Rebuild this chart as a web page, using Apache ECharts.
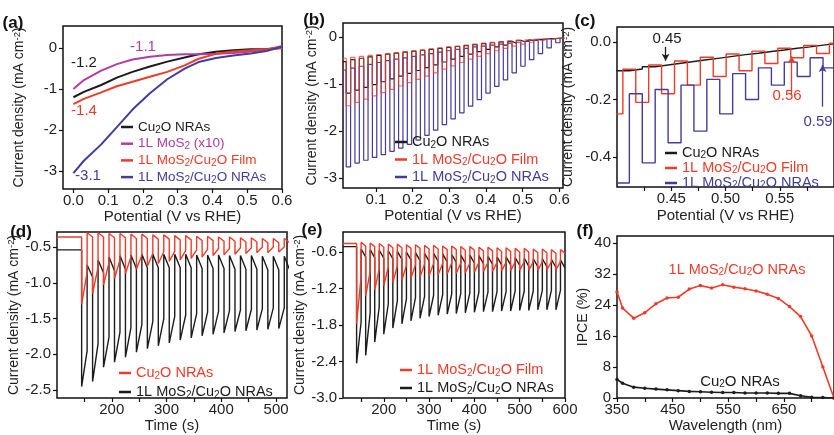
<!DOCTYPE html>
<html>
<head>
<meta charset="utf-8">
<script src="https://cdn.jsdelivr.net/npm/echarts@6.0.0/dist/echarts.min.js"></script>
<style>
  html, body { margin: 0; padding: 0; background: #fff; }
  #chart { width: 834px; height: 435px; }
</style>
</head>
<body>
<div id="chart"></div>
<script>
const FONT = 'Arial, "Liberation Sans", sans-serif';
const BLACK = '#1c1c1c', RED = '#ec3c2a', BLUE = '#433c9c', PURPLE = '#b23ca6';

// (a) linear sweeps
const aPotential = [0, 0.03, 0.08, 0.125, 0.17, 0.22, 0.27, 0.32, 0.36, 0.41, 0.46, 0.51, 0.555, 0.6];
const aCu2O = [-1.2, -1.07, -0.9, -0.72, -0.58, -0.45, -0.33, -0.23, -0.15, -0.09, -0.05, -0.03, -0.02, 0.0];
const aMoS2x10 = [-1.0, -0.78, -0.55, -0.39, -0.28, -0.21, -0.17, -0.15, -0.15, -0.14, -0.12, -0.08, -0.04, 0.05];
const aFilm = [-1.37, -1.24, -1.08, -0.93, -0.82, -0.7, -0.58, -0.42, -0.26, -0.14, -0.08, -0.05, -0.03, 0.0];
const aNRAs = [-3.05, -2.75, -2.35, -1.93, -1.5, -1.1, -0.76, -0.5, -0.34, -0.24, -0.18, -0.13, -0.07, 0.03];

// (b) chopped sweep, one value per light cycle (on = illuminated, off = dark)
const CHOP_START = -0.005, CHOP_PERIOD = 0.0238;
const bNRAsOn = [-2.9, -2.76, -2.68, -2.62, -2.56, -2.5, -2.43, -2.36, -2.28, -2.19, -2.09, -1.98, -1.86, -1.74, -1.61, -1.47, -1.33, -1.19, -1.05, -0.91, -0.76, -0.62, -0.48, -0.35, -0.23, -0.12];
const bNRAsOff = [-0.7, -0.66, -0.62, -0.58, -0.54, -0.5, -0.47, -0.44, -0.41, -0.38, -0.35, -0.32, -0.29, -0.26, -0.24, -0.21, -0.19, -0.17, -0.15, -0.13, -0.11, -0.09, -0.07, -0.05, -0.04, -0.03];
const bFilmOn = [-1.52, -1.46, -1.39, -1.32, -1.25, -1.18, -1.11, -1.04, -0.97, -0.9, -0.83, -0.76, -0.68, -0.61, -0.54, -0.47, -0.41, -0.35, -0.29, -0.24, -0.19, -0.15, -0.11, -0.08, -0.05, -0.03];
const bFilmOff = [-0.45, -0.43, -0.41, -0.39, -0.37, -0.35, -0.33, -0.31, -0.29, -0.27, -0.25, -0.23, -0.21, -0.19, -0.17, -0.15, -0.13, -0.11, -0.1, -0.08, -0.07, -0.06, -0.05, -0.04, -0.03, -0.02];
const bCu2OOn = [-1.25, -1.19, -1.13, -1.07, -1.01, -0.95, -0.89, -0.83, -0.77, -0.71, -0.65, -0.59, -0.53, -0.47, -0.41, -0.36, -0.31, -0.26, -0.21, -0.17, -0.13, -0.1, -0.07, -0.05, -0.03, -0.02];
const bCu2OOff = [-0.52, -0.48, -0.45, -0.42, -0.39, -0.36, -0.34, -0.32, -0.3, -0.28, -0.26, -0.24, -0.22, -0.2, -0.18, -0.16, -0.14, -0.12, -0.1, -0.09, -0.07, -0.06, -0.05, -0.04, -0.03, -0.02];

// (c) close-up 0.40-0.60 V
const C_START = 0.3995, C_RED_START = 0.3935;
const cNRAsOn = [-0.49, -0.42, -0.35, -0.31, -0.25, -0.2, -0.15, -0.12, -0.09];
const cNRAsOff = [-0.18, -0.165, -0.15, -0.13, -0.11, -0.09, -0.07, -0.055, -0.045];
const cFilmOn = [-0.25, -0.21, -0.18, -0.15, -0.12, -0.1, -0.075, -0.055, -0.04];
const cFilmOff = [-0.095, -0.08, -0.066, -0.053, -0.042, -0.032, -0.022, -0.012, -0.004];
const cCu2OOn = [-0.1, -0.086, -0.074, -0.062, -0.05, -0.039, -0.028, -0.017, -0.006];
const cCu2OOff = [-0.094, -0.08, -0.068, -0.056, -0.044, -0.033, -0.022, -0.011, 0.0];

// (d) chopped i-t, per cycle: spike on light-on, end of on, after light-off, end of off
const D_MIN = 100, D_START = 145, D_PERIOD = 20;
const dCu2OBase = -0.36, dNRAsBase = -0.54;
const dCu2OOnPeak = [-1.3, -1.15, -1.03, -0.94, -0.87, -0.81, -0.77, -0.73, -0.7, -0.68, -0.66, -0.64, -0.62, -0.61, -0.6, -0.59, -0.58, -0.58, -0.57];
const dCu2OOnEnd = [-0.85, -0.78, -0.72, -0.68, -0.64, -0.61, -0.59, -0.57, -0.56, -0.55, -0.54, -0.53, -0.52, -0.52, -0.51, -0.51, -0.5, -0.5, -0.5];
const dCu2OOffPeak = [-0.3, -0.3, -0.31, -0.31, -0.32, -0.32, -0.33, -0.33, -0.34, -0.34, -0.35, -0.35, -0.36, -0.36, -0.37, -0.37, -0.38, -0.38, -0.38];
const dCu2OOffEnd = [-0.36, -0.36, -0.37, -0.37, -0.38, -0.38, -0.39, -0.39, -0.4, -0.4, -0.41, -0.41, -0.42, -0.42, -0.43, -0.43, -0.44, -0.44, -0.44];
const dNRAsOnPeak = [-2.45, -2.38, -2.18, -2.11, -2.04, -1.97, -1.92, -1.88, -1.84, -1.8, -1.77, -1.74, -1.72, -1.7, -1.68, -1.67, -1.66, -1.65, -1.64];
const dNRAsOnEnd = [-1.95, -1.85, -1.76, -1.69, -1.63, -1.58, -1.54, -1.5, -1.47, -1.45, -1.43, -1.41, -1.4, -1.39, -1.38, -1.37, -1.36, -1.35, -1.35];
const dNRAsOffPeak = [-0.75, -0.68, -0.64, -0.62, -0.61, -0.6, -0.6, -0.6, -0.6, -0.6, -0.61, -0.61, -0.61, -0.62, -0.62, -0.62, -0.63, -0.63, -0.63];
const dNRAsOffEnd = [-0.92, -0.86, -0.83, -0.81, -0.8, -0.79, -0.79, -0.79, -0.79, -0.79, -0.8, -0.8, -0.8, -0.81, -0.81, -0.81, -0.82, -0.82, -0.82];

// (e) chopped i-t
const E_MIN = 110, E_START = 140, E_PERIOD = 20;
const eFilmBase = -0.46, eNRAsBase = -0.51;
const eFilmOnPeak = [-1.78, -1.32, -1.22, -1.15, -1.1, -1.06, -1.03, -1.01, -0.99, -0.97, -0.96, -0.95, -0.94, -0.93, -0.92, -0.92, -0.91, -0.91, -0.9, -0.9, -0.9, -0.89, -0.89];
const eFilmOnEnd = [-1.0, -0.92, -0.88, -0.85, -0.83, -0.82, -0.81, -0.8, -0.79, -0.79, -0.78, -0.78, -0.78, -0.77, -0.77, -0.77, -0.77, -0.76, -0.76, -0.76, -0.76, -0.76, -0.76];
const eFilmOffPeak = [-0.44, -0.45, -0.46, -0.47, -0.47, -0.48, -0.48, -0.49, -0.49, -0.5, -0.5, -0.51, -0.51, -0.52, -0.52, -0.53, -0.53, -0.54, -0.54, -0.55, -0.55, -0.56, -0.56];
const eFilmOffEnd = [-0.5, -0.51, -0.52, -0.53, -0.53, -0.54, -0.54, -0.55, -0.55, -0.56, -0.56, -0.57, -0.57, -0.58, -0.58, -0.59, -0.59, -0.6, -0.6, -0.61, -0.61, -0.62, -0.62];
const eNRAsOnPeak = [-2.43, -2.3, -2.08, -1.95, -1.85, -1.78, -1.73, -1.69, -1.66, -1.64, -1.62, -1.61, -1.6, -1.59, -1.58, -1.58, -1.57, -1.57, -1.56, -1.56, -1.55, -1.55, -1.55];
const eNRAsOnEnd = [-1.75, -1.6, -1.5, -1.45, -1.4, -1.37, -1.35, -1.33, -1.31, -1.3, -1.29, -1.28, -1.27, -1.26, -1.26, -1.25, -1.25, -1.24, -1.24, -1.24, -1.23, -1.23, -1.23];
const eNRAsOffPeak = [-0.55, -0.56, -0.57, -0.58, -0.59, -0.6, -0.61, -0.62, -0.62, -0.63, -0.64, -0.65, -0.65, -0.66, -0.67, -0.68, -0.68, -0.69, -0.7, -0.71, -0.71, -0.72, -0.73];
const eNRAsOffEnd = [-0.68, -0.69, -0.7, -0.71, -0.72, -0.73, -0.74, -0.75, -0.75, -0.76, -0.77, -0.78, -0.78, -0.79, -0.8, -0.81, -0.81, -0.82, -0.83, -0.84, -0.84, -0.85, -0.86];

// (f) IPCE
const fWavelength = [350, 360, 380, 400, 420, 440, 460, 480, 500, 520, 540, 560, 580, 600, 620, 640, 660, 680, 700, 720, 740];
const fNRAs = [27.4, 23.2, 20.6, 22, 24.3, 25.8, 26, 28.1, 29, 28.4, 29.2, 28.6, 28.2, 27.6, 26.8, 25.7, 23.6, 21, 16, 8, 0];
const fCu2O = [4.8, 3.8, 2.8, 2.5, 2.3, 2.1, 1.9, 1.7, 1.6, 1.5, 1.4, 1.4, 1.3, 1.3, 1.3, 1.2, 1.2, 0.6, 0.2, 0.1, 0];

const LABEL_TEXT = {
  cu: 'Cu{s|2}O NRAs',
  mo: '1L MoS{s|2} (x10)',
  film: '1L MoS{s|2}/Cu{s|2}O Film',
  nra: '1L MoS{s|2}/Cu{s|2}O NRAs'
};

function zip(xs, ys) { return xs.map((x, i) => [x, ys[i]]); }

function squareWave(start, period, onVals, offVals) {
  const pts = [];
  for (let k = 0; k < onVals.length; k++) {
    const t0 = start + k * period, t1 = t0 + period / 2, t2 = t0 + period;
    pts.push([t0, onVals[k]], [t1, onVals[k]], [t1, offVals[k]], [t2, offVals[k]]);
  }
  return pts;
}

function transientWave(xMin, base, start, period, onPeak, onEnd, offPeak, offEnd) {
  const pts = [[xMin, base], [start, base]];
  for (let k = 0; k < onPeak.length; k++) {
    const t0 = start + k * period, t1 = t0 + period / 2, t2 = t0 + period;
    pts.push([t0, onPeak[k]], [t1, onEnd[k]], [t1, offPeak[k]], [t2, offEnd[k]]);
  }
  return pts;
}

const SUB = { fontSize: 10, lineHeight: 8, verticalAlign: 'bottom' };
const SUP = { fontSize: 9.5, lineHeight: 8, verticalAlign: 'top' };

function xAxis(gi, min, max, labels, ticks, digits, name, nameGap) {
  return {
    gridIndex: gi, type: 'value', min, max,
    axisLine: { show: false, onZero: false },
    axisTick: { show: true, length: 4, customValues: ticks, lineStyle: { color: '#111', width: 1.2 } },
    axisLabel: { customValues: labels, formatter: v => v.toFixed(digits), fontSize: 15, color: '#222', fontFamily: FONT, margin: 4 },
    splitLine: { show: false },
    name, nameLocation: 'middle', nameGap,
    nameTextStyle: { fontSize: 15, color: '#222', fontFamily: FONT }
  };
}

function yAxis(gi, min, max, labels, digits, name, nameGap) {
  return {
    gridIndex: gi, type: 'value', min, max,
    axisLine: { show: false, onZero: false },
    axisTick: { show: true, length: 4, customValues: labels, lineStyle: { color: '#111', width: 1.2 } },
    axisLabel: { customValues: labels, formatter: v => v.toFixed(digits), fontSize: 15, color: '#222', fontFamily: FONT, margin: 6 },
    splitLine: { show: false },
    name, nameLocation: 'middle', nameGap,
    nameTextStyle: { fontSize: 14, color: '#222', fontFamily: FONT, lineHeight: 15, rich: { sup: SUP } }
  };
}

function legendFor(left, top, gap, fontSize, lineHeight, items) {
  return {
    left, top, orient: 'vertical', padding: 0, itemGap: gap,
    itemWidth: 12, itemHeight: 2.5, icon: 'rect', selectedMode: false,
    formatter: n => LABEL_TEXT[n.split(':')[1]],
    textStyle: { fontFamily: FONT, fontSize, lineHeight, rich: { s: SUB } },
    data: items.map(([name, color]) => ({ name, textStyle: { color }, itemStyle: { color } }))
  };
}

function line(name, gi, color, data, width, extra) {
  return Object.assign({
    name, type: 'line', xAxisIndex: gi, yAxisIndex: gi, data,
    color, showSymbol: false, symbol: 'none', clip: true, silent: true,
    lineStyle: { width, color }, animation: false
  }, extra || {});
}

const CD_NAME = 'Current density (mA cm{sup|-2})';
const frame = { show: true, borderColor: '#111', borderWidth: 1.5, backgroundColor: 'transparent' };

function arrow(x, y0, y1, color) {
  return {
    silent: true, symbol: ['none', 'arrow'], symbolSize: [6, 7], animation: false,
    lineStyle: { color, width: 1.3, type: 'solid' }, label: { show: false },
    data: [[{ coord: [x, y0] }, { coord: [x, y1] }]]
  };
}

function txt(x, y, text, color, size, bold) {
  return {
    type: 'text', x, y, silent: true,
    style: { text, fill: color, font: (bold ? 'bold ' : '') + size + 'px ' + FONT, align: 'center', verticalAlign: 'middle', rich: { s: SUB } }
  };
}

const chart = echarts.init(document.getElementById('chart'), null, { renderer: 'canvas' });

chart.setOption({
  animation: false,
  backgroundColor: '#fff',
  grid: [
    Object.assign({ left: 63, top: 26, width: 219, height: 163 }, frame),
    Object.assign({ left: 343, top: 23, width: 220, height: 165 }, frame),
    Object.assign({ left: 617, top: 27, width: 223, height: 160 }, frame),
    Object.assign({ left: 57, top: 232, width: 230, height: 166 }, frame),
    Object.assign({ left: 343, top: 232, width: 222, height: 166 }, frame),
    Object.assign({ left: 617, top: 236, width: 223, height: 162 }, frame)
  ],
  xAxis: [
    xAxis(0, -0.03, 0.6, [0, 0.1, 0.2, 0.3, 0.4, 0.5, 0.6], [0, 0.1, 0.2, 0.3, 0.4, 0.5, 0.6], 1, 'Potential (V vs RHE)', 18.5),
    xAxis(1, 0.01, 0.61, [0.1, 0.2, 0.3, 0.4, 0.5, 0.6], [0.1, 0.2, 0.3, 0.4, 0.5, 0.6], 1, 'Potential (V vs RHE)', 20.5),
    xAxis(2, 0.4, 0.6, [0.45, 0.5, 0.55], [0.425, 0.45, 0.475, 0.5, 0.525, 0.55, 0.575], 2, 'Potential (V vs RHE)', 21.5),
    xAxis(3, D_MIN, 520, [200, 300, 400, 500], [150, 200, 250, 300, 350, 400, 450, 500], 0, 'Time (s)', 11.5),
    xAxis(4, E_MIN, 600, [200, 300, 400, 500, 600], [150, 200, 250, 300, 350, 400, 450, 500, 550, 600], 0, 'Time (s)', 11.5),
    xAxis(5, 350, 740, [350, 450, 550, 650], [350, 400, 450, 500, 550, 600, 650, 700], 0, 'Wavelength (nm)', 13.5)
  ],
  yAxis: [
    yAxis(0, -3.44, 0.54, [0, -1, -2, -3], 0, CD_NAME, 36),
    yAxis(1, -3.21, 0.3, [0, -1, -2, -3], 0, CD_NAME, 21),
    yAxis(2, -0.504, 0.052, [0, -0.2, -0.4], 1, CD_NAME, 41),
    yAxis(3, -2.61, -0.29, [-0.5, -1.0, -1.5, -2.0, -2.5], 1, CD_NAME, 29.5),
    yAxis(4, -3.0, -0.27, [-0.6, -1.2, -1.8, -2.4, -3.0], 1, CD_NAME, 30.5),
    yAxis(5, 0, 41.8, [0, 8, 16, 24, 32, 40], 0, 'IPCE (%)', 18.5)
  ],
  legend: [
    legendFor(121, 119, 0.7, 13.5, 16, [['a:cu', BLACK], ['a:mo', PURPLE], ['a:film', RED], ['a:nra', BLUE]]),
    legendFor(395, 134, 1.5, 14.5, 16, [['b:cu', BLACK], ['b:film', RED], ['b:nra', BLUE]]),
    legendFor(665, 145.5, 0, 14.5, 15, [['c:cu', BLACK], ['c:film', RED], ['c:nra', BLUE]]),
    legendFor(119, 365, 3, 14.5, 16, [['d:cu', RED], ['d:nra', BLACK]]),
    legendFor(400, 362, 2, 14.5, 16, [['e:film', RED], ['e:nra', BLACK]])
  ],
  series: [
    line('a:cu', 0, BLACK, zip(aPotential, aCu2O), 2),
    line('a:mo', 0, PURPLE, zip(aPotential, aMoS2x10), 2),
    line('a:film', 0, RED, zip(aPotential, aFilm), 2),
    line('a:nra', 0, BLUE, zip(aPotential, aNRAs), 2),

    line('b:cu', 1, BLACK, squareWave(CHOP_START, CHOP_PERIOD, bCu2OOn, bCu2OOff), 1.2),
    line('b:nra', 1, BLUE, squareWave(CHOP_START, CHOP_PERIOD, bNRAsOn, bNRAsOff), 1.2),
    line('b:film', 1, RED, squareWave(CHOP_START, CHOP_PERIOD, bFilmOn, bFilmOff), 1.2, { lineStyle: { width: 1.2, color: RED, opacity: 0.75 } }),

    line('c:cu', 2, BLACK, squareWave(C_START, CHOP_PERIOD, cCu2OOn, cCu2OOff), 1.4, { markLine: arrow(0.4448, -0.017, -0.065, BLACK) }),
    line('c:film', 2, RED, squareWave(C_RED_START, CHOP_PERIOD, cFilmOn, cFilmOff), 1.4, { markLine: arrow(0.561, -0.185, -0.05, RED) }),
    line('c:nra', 2, BLUE, squareWave(C_START, CHOP_PERIOD, cNRAsOn, cNRAsOff), 1.4, { markLine: arrow(0.5895, -0.225, -0.08, BLUE) }),

    line('d:nra', 3, BLACK, transientWave(D_MIN, dNRAsBase, D_START, D_PERIOD, dNRAsOnPeak, dNRAsOnEnd, dNRAsOffPeak, dNRAsOffEnd), 1.4),
    line('d:cu', 3, RED, transientWave(D_MIN, dCu2OBase, D_START, D_PERIOD, dCu2OOnPeak, dCu2OOnEnd, dCu2OOffPeak, dCu2OOffEnd), 1.4),

    line('e:nra', 4, BLACK, transientWave(E_MIN, eNRAsBase, E_START, E_PERIOD, eNRAsOnPeak, eNRAsOnEnd, eNRAsOffPeak, eNRAsOffEnd), 1.4),
    line('e:film', 4, RED, transientWave(E_MIN, eFilmBase, E_START, E_PERIOD, eFilmOnPeak, eFilmOnEnd, eFilmOffPeak, eFilmOffEnd), 1.4),

    line('f:nra', 5, RED, zip(fWavelength, fNRAs), 1.6, { showSymbol: true, symbol: 'circle', symbolSize: 3.5, itemStyle: { color: RED } }),
    line('f:cu', 5, BLACK, zip(fWavelength, fCu2O), 1.6, { showSymbol: true, symbol: 'circle', symbolSize: 3.5, itemStyle: { color: BLACK } })
  ],
  graphic: [
    txt(13, 23, '(a)', '#111', 17, true),
    txt(314, 20, '(b)', '#111', 17, true),
    txt(585, 21, '(c)', '#111', 17, true),
    txt(21, 232, '(d)', '#111', 17, true),
    txt(312, 230, '(e)', '#111', 17, true),
    txt(585, 231, '(f)', '#111', 17, true),
    txt(84, 63, '-1.2', BLACK, 15),
    txt(143, 47, '-1.1', PURPLE, 15),
    txt(84, 111, '-1.4', RED, 15),
    txt(88, 176, '-3.1', BLUE, 15),
    txt(667, 39, '0.45', BLACK, 15),
    txt(787, 96, '0.56', RED, 15),
    txt(818, 122, '0.59', BLUE, 15),
    txt(737, 270, '1L MoS{s|2}/Cu{s|2}O NRAs', RED, 14.5),
    txt(740, 382, 'Cu{s|2}O NRAs', BLACK, 15)
  ]
});
</script>
</body>
</html>
